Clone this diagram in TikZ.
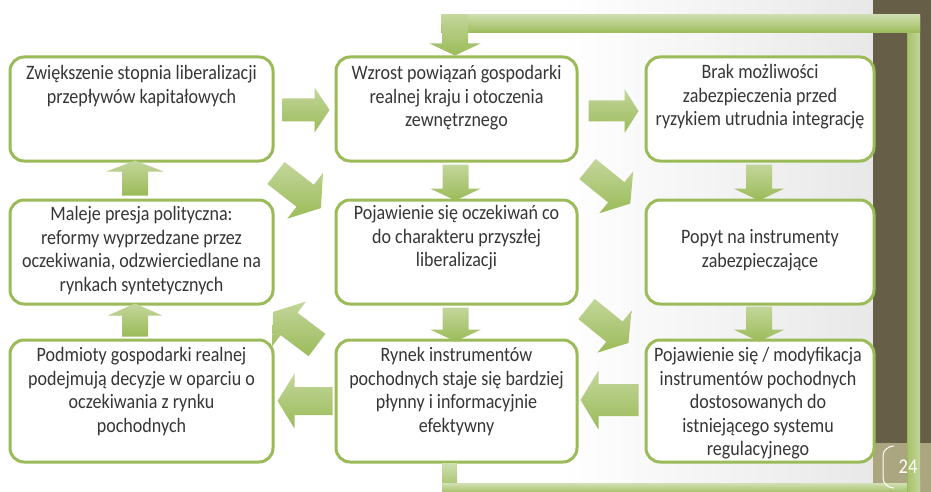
\documentclass[tikz,border=0pt]{standalone}
\usepackage{fontspec}
\setmainfont{Carlito}[FakeStretch=0.88]
\usetikzlibrary{calc}
\definecolor{grn}{HTML}{9BBB59}
\definecolor{grnl}{HTML}{C3D69B}
\definecolor{grnd}{HTML}{8DAF48}
\definecolor{band}{HTML}{675E47}
\definecolor{khaki}{HTML}{ABA680}
\definecolor{txt}{HTML}{363636}
\tikzset{
  box/.style={draw=grn, line width=3pt, rounded corners=14pt, fill=white, inner sep=0pt},
  btxt/.style={text=txt, font=\fontsize{20.5}{23.5}\selectfont, align=center, anchor=north, inner sep=0pt},
  arrowfill/.style={top color=grnl, bottom color=grn, draw=none},
  barfill/.style={top color=grnl!80!white, bottom color=grn},
}
\newcommand\fstrut{\rule{0pt}{16pt}}
% #1 coordinate name (back centre), #2 angle, #3 length, #4 shaft half width, #5 head half width, #6 head length
\newcommand\blockarrow[6]{%
  \begin{scope}[shift={(#1)}, rotate=#2]
    \path[arrowfill] (0,-#4) -- ({#3-#6},-#4) -- ({#3-#6},-#5) -- (#3,0) -- ({#3-#6},#5) -- ({#3-#6},#4) -- (0,#4) -- cycle;
  \end{scope}}
\begin{document}
\begin{tikzpicture}[x=1pt,y=-1pt]
\useasboundingbox (0,0) rectangle (931,492);
% background
\fill[white] (0,0) rectangle (931,492);
\shade[left color=white, right color=black!9] (560,0) rectangle (873,492);
\fill[band] (873,0) rectangle (931,443);
\fill[khaki] (873,443) rectangle (931,492);

% boxes
\node[box, minimum width=263pt, minimum height=104pt] (A) at (141.5,109) {};
\node[box, minimum width=241pt, minimum height=104pt] (B) at (456.5,109) {};
\node[box, minimum width=228pt, minimum height=104pt] (C) at (760,109) {};
\node[box, minimum width=263pt, minimum height=104pt] (D) at (141.5,252) {};
\node[box, minimum width=241pt, minimum height=104pt] (E) at (456.5,252) {};
\node[box, minimum width=228pt, minimum height=104pt] (F) at (760,252) {};
\node[box, minimum width=263pt, minimum height=122pt] (G) at (141.5,401) {};
\node[box, minimum width=241pt, minimum height=122pt] (H) at (456.5,401) {};
\node[box, minimum width=228pt, minimum height=122pt] (I) at (760,401) {};

% feedback loop bars
\coordinate (loopA) at ($(H.south)+(-14.5,0)$);
\coordinate (loopB) at ($(H.south)+(0.5,30)$);
\coordinate (loopC) at (920,482);
\coordinate (loopD) at (907,16);
\coordinate (loopE) at ($(B.north)+(-15.5,-41)$);
\fill[barfill] (loopA) rectangle (loopB);
\fill[barfill] ($(loopA)+(0,20)$) rectangle ($(loopC)+(0,12)$);
\shade[left color=grn!90!white, right color=grnl] (loopD) rectangle (loopC |- 0,494);
\draw[grn, line width=0.8pt] (loopD) -- (loopD |- 0,494);
\fill[barfill] (loopE) rectangle ($(loopD)+(13,17)$);
\coordinate (t0) at ($(B.north)+(-1.5,-41)$);
\blockarrow{t0}{-90}{41}{13}{25.5}{12}

% straight arrows
\coordinate (ab) at ($(A.east)+(8,1)$);
\blockarrow{ab}{0}{47}{11.5}{22.5}{15}
\coordinate (bc) at ($(B.east)+(10,2)$);
\blockarrow{bc}{0}{50}{10.5}{22}{14}
\coordinate (be) at ($(B.south)+(-1,2)$);
\blockarrow{be}{-90}{36}{13}{25.5}{12}
\coordinate (cf) at ($(C.south)+(-1,2)$);
\blockarrow{cf}{-90}{36}{13}{25.5}{12}
\coordinate (da) at ($(D.north)+(-6.5,-3)$);
\blockarrow{da}{90}{35}{13}{28.5}{11}
\coordinate (gd) at ($(G.north)+(-6.5,-2)$);
\blockarrow{gd}{90}{33}{13}{27}{12}
\coordinate (eh) at ($(E.south)+(-1,2)$);
\blockarrow{eh}{-90}{34}{13}{25.5}{12}
\coordinate (fi) at ($(F.south)+(-1,1)$);
\blockarrow{fi}{-90}{35}{13}{25.5}{12}
\coordinate (hg) at ($(H.west)+(-2,0)$);
\blockarrow{hg}{180}{55}{14}{27.5}{17}
\coordinate (ih) at ($(I.west)+(-6,-1)$);
\blockarrow{ih}{180}{58}{16}{29.5}{18}

% diagonal arrows
\coordinate (ae) at ($(A.south east)+(1.5,10.5)$);
\blockarrow{ae}{-38}{57}{14}{29}{20}
\coordinate (bf) at ($(B.south east)+(9,6.5)$);
\blockarrow{bf}{-39}{55}{13}{27}{18}
\coordinate (ei) at ($(E.south east)+(8,3.5)$);
\blockarrow{ei}{-39}{54}{13}{27}{18}
\coordinate (hd) at ($(H.north west)+(-17.5,6.5)$);
\blockarrow{hd}{143}{55}{14}{28}{20}

% texts
\node[btxt] (tA) at ($(A.north)+(0,8)$) {\fstrut Zwiększenie stopnia liberalizacji\\przepływów kapitałowych};
\node[btxt] (tB) at ($(B.north)+(0,8)$) {\fstrut Wzrost powiązań gospodarki\\realnej kraju i otoczenia\\zewnętrznego};
\node[btxt] (tC) at ($(C.north)+(0,7)$) {\fstrut Brak możliwości\\zabezpieczenia przed\\ryzykiem utrudnia integrację};
\node[btxt] (tD) at ($(D.north)+(0,6)$) {\fstrut Maleje presja polityczna:\\reformy wyprzedzane przez\\oczekiwania, odzwierciedlane na\\rynkach syntetycznych};
\node[btxt] (tE) at ($(E.north)+(0,5)$) {\fstrut Pojawienie się oczekiwań co\\do charakteru przyszłej\\liberalizacji};
\node[btxt] (tF) at ($(F.north)+(0,29)$) {\fstrut Popyt na instrumenty\\zabezpieczające};
\node[btxt] (tG) at ($(G.north)+(0,7)$) {\fstrut Podmioty gospodarki realnej\\podejmują decyzje w oparciu o\\oczekiwania z rynku\\pochodnych};
\node[btxt] (tH) at ($(H.north)+(0,7)$) {\fstrut Rynek instrumentów\\pochodnych staje się bardziej\\płynny i informacyjnie\\efektywny};
\node[btxt] (tI) at ($(I.north)+(-2,7)$) {\fstrut Pojawienie się / modyfikacja\\instrumentów pochodnych\\dostosowanych do\\istniejącego systemu\\regulacyjnego};

% page number
\node[text=white, font=\fontsize{21}{24}\selectfont, inner sep=0pt] (pg) at (908,467) {24};
\draw[white, line width=1pt] (894,446) to[out=180,in=90] (883,456) -- (883,478) to[out=-90,in=180] (894,488);
\end{tikzpicture}
\end{document}
